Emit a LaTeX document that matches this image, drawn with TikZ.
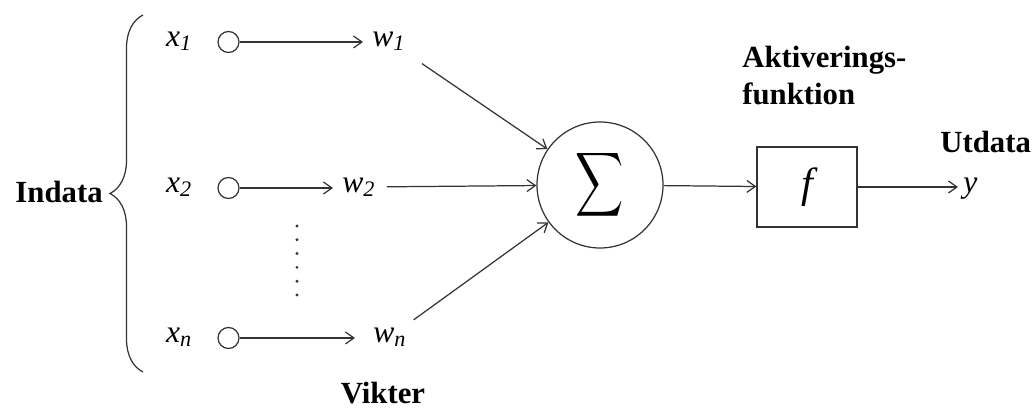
\documentclass[tikz,border=0pt]{standalone}
\usepackage{fontspec}
\setmainfont{Liberation Serif}
\usepackage{tikz}
\usetikzlibrary{arrows.meta,decorations.pathreplacing}
\definecolor{cink}{HTML}{333333}
\tikzset{>={Straight Barb[length=1.7mm,width=2.4mm]},
  wire/.style={draw=cink,line width=0.7pt},
  inpt/.style={circle,draw=cink,line width=0.7pt,minimum size=0.42cm,inner sep=0pt},
  var/.style={font=\fontsize{18}{18}\selectfont\itshape,inner sep=0pt},
  ttl/.style={font=\fontsize{17.5}{21}\selectfont\bfseries,inner sep=0pt}}
\newcommand{\vsub}[2]{#1\textsubscript{#2}}

\begin{document}
\begin{tikzpicture}
\useasboundingbox (0,0) rectangle (20.7,8.18);

% ============ inputs ============
\node[ttl,anchor=east] (indata) at (2.06,4.34) {Indata};
\draw[cink,line width=0.7pt,decorate,decoration={brace,amplitude=0.66cm}] (2.86,0.74) -- (2.86,7.88);
\node[inpt] (in1) at (4.57,7.34) {};
\node[inpt] (in2) at (4.57,4.42) {};
\node[inpt] (inn) at (4.57,1.42) {};
\node[var,anchor=mid east] (x1) at ([xshift=-0.5cm]in1.west) {\vsub{x}{1}};
\node[var,anchor=mid east] (x2) at ([xshift=-0.5cm]in2.west) {\vsub{x}{2}};
\node[var,anchor=mid east] (xn) at ([xshift=-0.5cm]inn.west) {\vsub{x}{n}};
% vertical dots between row 2 and row n
\foreach \k in {0,...,5}
  \fill[cink] (5.94,{3.66-0.276*\k}) circle (0.032);

% ============ weights ============
\node[var,anchor=mid west] (w1) at (7.44,7.34) {\vsub{w}{1}};
\node[var,anchor=mid west] (w2) at (6.84,4.42) {\vsub{w}{2}};
\node[var,anchor=mid west] (wn) at (7.46,1.42) {\vsub{w}{n}};
\node[ttl,anchor=base] (vikter) at (7.66,0.1) {Vikter};
\draw[wire,->,shorten >=0.18cm] (in1) -- (in1 -| w1.west);
\draw[wire,->,shorten >=0.18cm] (in2) -- (in2 -| w2.west);
\draw[wire,->,shorten >=0.36cm] (inn) -- (inn -| wn.west);

% ============ sum and activation ============
\node[circle,draw=cink,line width=0.7pt,minimum size=2.52cm,inner sep=0pt] (sum) at (12.0,4.48)
  {\scalebox{1.9}[2.55]{$\displaystyle\sum$}};
\draw[wire,->,shorten <=0.45cm] (w1) -- (sum);
\draw[wire,->,shorten <=0.22cm] (w2) -- (sum);
\draw[wire,->,shorten <=0.25cm] (wn) -- (sum);
\node[draw=cink,line width=0.7pt,minimum width=2.0cm,minimum height=1.6cm] (act) at (16.14,4.44)
  {\fontsize{24}{24}\selectfont\itshape f};
\node[ttl,anchor=north west,align=left] (aktiv) at (14.84,7.26) {Aktiverings-\\funktion};
\draw[wire,->] (sum) -- (act);

% ============ output ============
\node[ttl,anchor=west] (utdata) at (18.8,5.35) {Utdata};
\node[var,anchor=mid west] (out) at (19.26,4.42) {y};
\draw[wire,->,shorten >=0.1cm] (act) -- (act -| out.west);

\end{tikzpicture}
\end{document}
